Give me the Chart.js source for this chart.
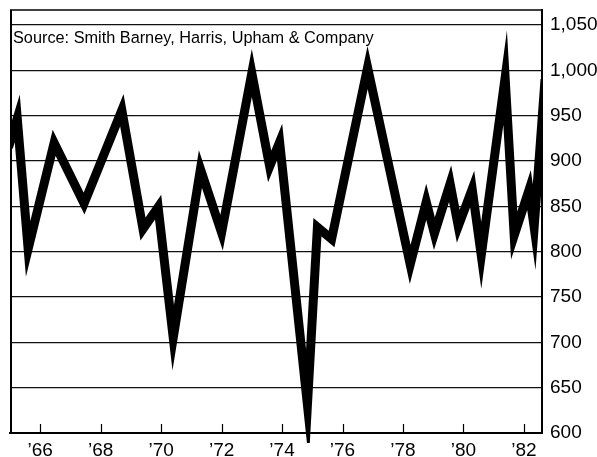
<!DOCTYPE html>
<html>
<head>
<meta charset="utf-8">
<script src="https://cdn.jsdelivr.net/npm/chart.js@4/dist/chart.umd.min.js"></script>
<style>
  html, body { margin: 0; padding: 0; background: #fff; }
  #wrap { position: relative; width: 597px; height: 457px; }
  #source {
    position: absolute; left: 13px; top: 29px;
    font: 16.3px "Liberation Sans", Arial, sans-serif; line-height: 16px;
    color: #000; white-space: nowrap;
  }
</style>
</head>
<body>
<div id="wrap">
  <canvas id="chart" width="597" height="457"></canvas>
  <div id="source">Source: Smith Barney, Harris, Upham &amp; Company</div>
</div>
<script>
// turning points (year position, index level)
const years = [1964.95, 1965.24, 1965.6, 1966.46, 1967.45, 1968.7, 1969.4, 1969.9, 1970.4, 1971.3,
  1972.0, 1973.0, 1973.59, 1973.92, 1974.84, 1975.17, 1975.64, 1976.83, 1978.24, 1978.77,
  1979.04, 1979.56, 1979.83, 1980.29, 1980.59, 1981.38, 1981.68, 1982.17, 1982.34, 1982.7]
const values = [915, 947, 803, 920, 853, 956, 825, 849, 705, 891,
  821, 997, 894, 921, 631, 827, 814, 1003, 786, 855,
  820, 875, 828, 869, 796, 992, 818, 868, 827, 990]

const tickYears = [1966, 1968, 1970, 1972, 1974, 1976, 1978, 1980, 1982]
const tickLabels = ['’66', '’68', '’70', '’72', '’74', '’76', '’78', '’80', '’82']
const valueTicks = [600, 650, 700, 750, 800, 850, 900, 950, 1000, 1050]

const FONT = '"Liberation Sans", Arial, sans-serif'

const framePlugin = {
    id: 'frame',
    beforeDatasetsDraw(chart) {
        chart.ctx.miterLimit = 30
    },
    afterDraw(chart) {
        const { ctx, chartArea: a } = chart
        ctx.save()
        ctx.strokeStyle = '#000'
        ctx.lineWidth = 2
        ctx.beginPath()
        ctx.moveTo(a.left + 1, a.bottom)
        ctx.lineTo(a.left + 1, a.top)
        ctx.stroke()
        ctx.lineWidth = 1.5
        ctx.beginPath()
        ctx.moveTo(a.left, a.top)
        ctx.lineTo(a.right, a.top)
        ctx.stroke()
        // small inside tick marks on the bottom axis
        ctx.lineWidth = 1.2
        const xs = chart.scales.x
        xs.ticks.forEach(t => {
            const px = Math.round(xs.getPixelForValue(t.value)) + 0.5
            ctx.beginPath()
            ctx.moveTo(px, a.bottom)
            ctx.lineTo(px, a.bottom - 9)
            ctx.stroke()
        })
        ctx.restore()
    }
}

new Chart(document.getElementById('chart').getContext('2d'), {
    type: 'line',
    data: {
        datasets: [{
            data: years.map((x, i) => ({ x, y: values[i] })),
            borderColor: '#000',
            borderWidth: 9,
            borderJoinStyle: 'miter',
            borderCapStyle: 'butt',
            pointRadius: 0,
            tension: 0,
            clip: { left: 0, top: 0, right: 0, bottom: 10 },
        }]
    },
    options: {
        responsive: false,
        animation: false,
        layout: { padding: { left: 10, top: 10, right: 0, bottom: 0 } },
        plugins: { legend: { display: false }, tooltip: { enabled: false } },
        scales: {
            x: {
                type: 'linear',
                min: 1965,
                max: 1982.6,
                afterBuildTicks: s => { s.ticks = tickYears.map(v => ({ value: v })) },
                afterFit: s => { s.height = 24; s.paddingLeft = 0; s.paddingRight = 0 },
                grid: { display: false, drawTicks: false },
                border: { display: true, color: '#000', width: 2 },
                ticks: {
                    autoSkip: false, maxRotation: 0, padding: 6,
                    color: '#000', font: { family: FONT, size: 19 },
                    callback: (v, i) => tickLabels[i],
                },
            },
            y: {
                position: 'right',
                min: 600,
                max: 1066.5,
                afterBuildTicks: s => { s.ticks = valueTicks.map(v => ({ value: v })) },
                afterFit: s => { s.width = 55; s.paddingTop = 0; s.paddingBottom = 0 },
                grid: { color: '#111', lineWidth: 1.2, drawTicks: false },
                border: { display: true, color: '#000', width: 2 },
                ticks: {
                    padding: 8, color: '#000', font: { family: FONT, size: 19 },
                    callback: v => v.toLocaleString('en-US'),
                },
            },
        },
    },
    plugins: [framePlugin],
})
</script>
</body>
</html>
